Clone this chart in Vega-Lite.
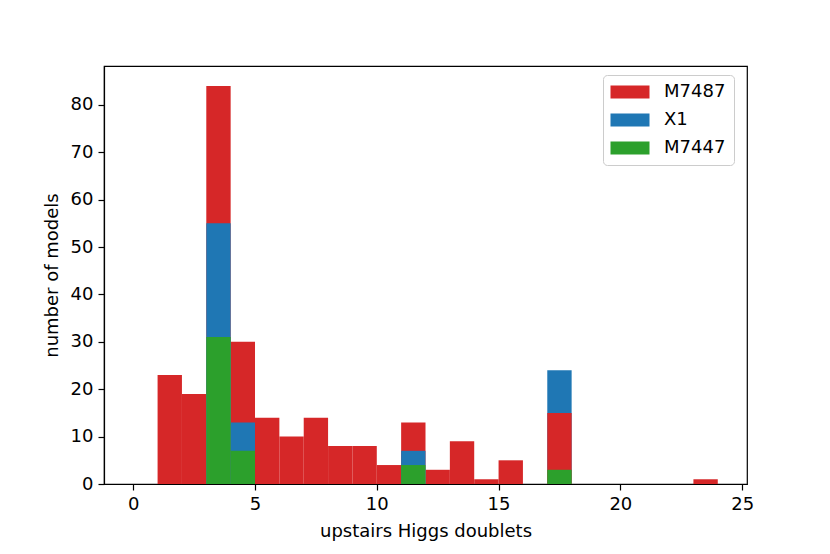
{
  "$schema": "https://vega.github.io/schema/vega-lite/v6.json",
  "width": 643,
  "height": 418,
  "autosize": {"type": "none"},
  "padding": {"left": 104, "top": 66, "right": 83, "bottom": 70},
  "background": "white",
  "config": {
    "font": "DejaVu Sans",
    "view": {"stroke": "black", "strokeWidth": 1.2},
    "axis": {
      "grid": false,
      "domainColor": "black",
      "domainWidth": 1.2,
      "tickColor": "black",
      "tickWidth": 1.2,
      "tickSize": 6,
      "labelFontSize": 18,
      "labelColor": "black",
      "labelPadding": 5,
      "titleFontSize": 18,
      "titleFontWeight": "normal",
      "titleColor": "black"
    },
    "legend": {
      "labelFontSize": 18,
      "labelColor": "black"
    }
  },
  "data": {
    "values": [
      {"series": "X1", "bin_start": 17, "bin_end": 18, "count": 24},
      {"series": "M7487", "bin_start": 1, "bin_end": 2, "count": 23},
      {"series": "M7487", "bin_start": 2, "bin_end": 3, "count": 19},
      {"series": "M7487", "bin_start": 3, "bin_end": 4, "count": 84},
      {"series": "M7487", "bin_start": 4, "bin_end": 5, "count": 30},
      {"series": "M7487", "bin_start": 5, "bin_end": 6, "count": 14},
      {"series": "M7487", "bin_start": 6, "bin_end": 7, "count": 10},
      {"series": "M7487", "bin_start": 7, "bin_end": 8, "count": 14},
      {"series": "M7487", "bin_start": 8, "bin_end": 9, "count": 8},
      {"series": "M7487", "bin_start": 9, "bin_end": 10, "count": 8},
      {"series": "M7487", "bin_start": 10, "bin_end": 11, "count": 4},
      {"series": "M7487", "bin_start": 11, "bin_end": 12, "count": 13},
      {"series": "M7487", "bin_start": 12, "bin_end": 13, "count": 3},
      {"series": "M7487", "bin_start": 13, "bin_end": 14, "count": 9},
      {"series": "M7487", "bin_start": 14, "bin_end": 15, "count": 1},
      {"series": "M7487", "bin_start": 15, "bin_end": 16, "count": 5},
      {"series": "M7487", "bin_start": 17, "bin_end": 18, "count": 15},
      {"series": "M7487", "bin_start": 23, "bin_end": 24, "count": 1},
      {"series": "X1", "bin_start": 3, "bin_end": 4, "count": 55},
      {"series": "X1", "bin_start": 4, "bin_end": 5, "count": 13},
      {"series": "X1", "bin_start": 11, "bin_end": 12, "count": 7},
      {"series": "M7447", "bin_start": 3, "bin_end": 4, "count": 31},
      {"series": "M7447", "bin_start": 4, "bin_end": 5, "count": 7},
      {"series": "M7447", "bin_start": 11, "bin_end": 12, "count": 4},
      {"series": "M7447", "bin_start": 17, "bin_end": 18, "count": 3}
    ]
  },
  "mark": {"type": "bar", "orient": "vertical"},
  "encoding": {
    "x": {
      "field": "bin_start",
      "type": "quantitative",
      "scale": {"domain": [-1.2, 25.2], "nice": false, "zero": false, "padding": 0},
      "axis": {"values": [0, 5, 10, 15, 20, 25], "title": "upstairs Higgs doublets", "titlePadding": 9}
    },
    "x2": {"field": "bin_end"},
    "y": {
      "field": "count",
      "type": "quantitative",
      "stack": null,
      "scale": {"domain": [0, 88.2], "nice": false, "padding": 0},
      "axis": {"values": [0, 10, 20, 30, 40, 50, 60, 70, 80], "title": "number of models", "titlePadding": 9}
    },
    "y2": {"datum": 0},
    "color": {
      "field": "series",
      "type": "nominal",
      "scale": {"domain": ["M7487", "X1", "M7447"], "range": ["#d62728", "#1f77b4", "#2ca02c"]},
      "legend": {
        "title": null,
        "orient": "none",
        "legendX": 499,
        "legendY": 9,
        "symbolType": "M-3,-1L3,-1L3,1L-3,1Z",
        "symbolSize": 169,
        "symbolOffset": 10,
        "symbolStrokeWidth": 0,
        "symbolOpacity": 1,
        "labelOffset": 25,
        "rowPadding": 10,
        "padding": 8,
        "strokeColor": "#cccccc",
        "fillColor": "rgba(255,255,255,0.8)",
        "cornerRadius": 4
      }
    }
  }
}
